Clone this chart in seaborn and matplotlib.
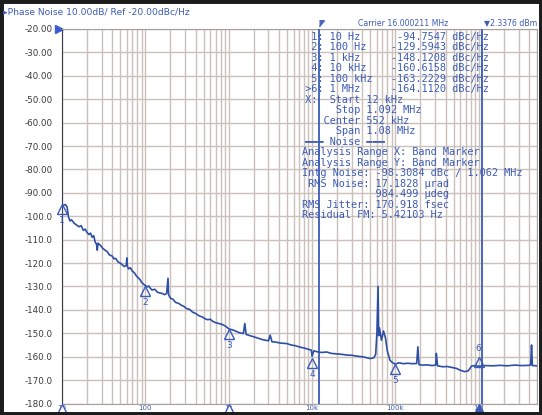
import numpy as np
import pandas as pd
import matplotlib
matplotlib.use('Agg')
import matplotlib.pyplot as plt
import matplotlib.ticker as mticker
import matplotlib.transforms as mtransforms
from matplotlib.patches import Rectangle
import seaborn as sns

# Phase noise trace (offset Hz, dBc/Hz)
freq_hz = [10, 10.5, 11, 11.5, 12, 12.5, 13, 14, 15, 16, 17, 18, 19, 20, 21, 22, 23, 24, 25, 26,
           26.5, 27, 29, 31, 33, 35, 37, 40, 42, 44, 47, 50, 53, 56, 59, 60, 61, 63, 66, 70,
           74, 78, 82, 86, 90, 95, 100, 105, 110, 115, 120, 130, 140, 150, 160, 170, 180, 187, 190, 200,
           215, 230, 250, 270, 290, 310, 340, 370, 400, 440, 480, 520, 560, 600, 650, 700, 760, 830, 900, 960,
           1000, 1100, 1200, 1350, 1500, 1560, 1620, 1800, 2000, 2300, 2600, 3000, 3150, 3300, 3700, 4200, 5000, 5600, 6300, 7000,
           8000, 9000, 9800, 10000, 10500, 11500, 13000, 15000, 17000, 20000, 23000, 26000, 30000, 35000, 40000, 45000, 50000, 55000, 58000, 60000,
           62000, 63000, 64500, 68000, 72000, 76000, 80000, 86000, 92000, 100000, 110000, 125000, 140000, 160000, 180000, 186000, 192000, 210000, 240000, 280000,
           305000, 310000, 320000, 370000, 420000, 480000, 540000, 600000, 680000, 750000, 820000, 900000, 1000000, 1200000, 1500000, 1800000, 2200000, 2700000, 3300000, 4000000,
           4200000, 4300000, 4400000, 5000000]
noise_dbc = [-96.5, -95.2, -95.0, -96.0, -100.5, -102.0, -101.5, -103.0, -103.8, -104.5, -104.0, -106.0, -105.5, -107.0, -107.8, -107.2, -109.0, -108.3, -111.0, -112.0,
             -114.5, -111.5, -112.5, -113.8, -114.5, -115.2, -116.5, -117.0, -118.2, -118.0, -119.5, -120.0, -120.8, -121.5, -121.0, -117.8, -121.5, -122.5, -122.0, -123.5,
             -124.2, -125.5, -126.3, -127.0, -128.2, -129.0, -129.6, -130.2, -129.8, -130.8, -131.5, -131.2, -132.5, -132.8, -133.0, -133.5, -133.0, -126.5, -133.5, -135.0,
             -135.5, -136.8, -137.2, -138.0, -138.5, -139.4, -139.8, -141.0, -141.5, -142.5, -143.0, -143.8, -144.2, -144.0, -145.0, -145.5, -145.8, -146.2, -146.8, -147.5,
             -148.1, -148.5, -149.0, -149.8, -150.1, -145.8, -150.5, -151.0, -151.5, -152.2, -152.8, -153.2, -150.8, -153.6, -153.8, -154.2, -154.4, -155.0, -155.3, -155.8,
             -156.3, -156.8, -157.2, -159.8, -157.5, -157.9, -158.2, -158.0, -158.6, -158.8, -159.0, -159.3, -159.4, -159.8, -160.0, -160.4, -160.8, -160.5, -159.0, -150.0,
             -130.0, -151.0, -147.8, -153.0, -149.0, -152.0, -157.5, -161.5, -162.5, -163.2, -162.6, -163.0, -162.8, -163.0, -162.9, -155.8, -163.4, -163.6, -163.5, -163.8,
             -163.5, -158.6, -163.9, -164.3, -164.2, -164.6, -165.0, -165.8, -166.4, -166.0, -164.0, -163.8, -164.1, -163.8, -163.9, -163.7, -163.9, -163.6, -163.8, -163.7,
             -163.5, -155.0, -163.8, -163.9]

marker_freq = [10, 100, 1e3, 1e4, 1e5, 1e6]
marker_val = [-94.7547, -129.5943, -148.1208, -160.6158, -163.2229, -164.1120]
marker_freq_txt = ['10 Hz', '100 Hz', '1 kHz', '10 kHz', '100 kHz', '1 MHz']

band_start = 12e3
band_stop = 1.092e6

x_ticks = [10, 100, 1e3, 1e4, 1e5, 1e6]
x_tick_labels = ['10', '100', '1k', '10k', '100k', '1M']
y_ticks = list(range(-20, -181, -10))
y_tick_labels = ['-20.00', '-30.00', '-40.00', '-50.00', '-60.00', '-70.00', '-80.00', '-90.00',
                 '-100.0', '-110.0', '-120.0', '-130.0', '-140.0', '-150.0', '-160.0', '-170.0', '-180.0']

noise_lines = ['Analysis Range X: Band Marker',
               'Analysis Range Y: Band Marker',
               'Intg Noise: -98.3084 dBc / 1.062 MHz',
               ' RMS Noise: 17.1828 \u00b5rad',
               '            984.499 \u00b5deg',
               'RMS Jitter: 170.918 fsec',
               'Residual FM: 5.42103 Hz']

TRACE = '#2f4fa6'
BLUE = '#3d5cb4'
GRID = '#cbc1ba'

sns.set_style('white')
W, H = 542, 415
fig = plt.figure(figsize=(W / 100, H / 100), dpi=100)
fig.patch.set_facecolor('white')


def fx(px):
    return px / W


def fy(py):
    return 1 - py / H


ax = fig.add_axes([fx(62), fy(403.5), (537 - 62) / W, (403.5 - 29) / H])
ax.set_xscale('log')

df = pd.DataFrame({'Offset (Hz)': freq_hz, 'Phase noise (dBc/Hz)': noise_dbc})
sns.lineplot(data=df, x='Offset (Hz)', y='Phase noise (dBc/Hz)', ax=ax,
             color=TRACE, linewidth=1.2, zorder=4)

ax.set_xlim(10, 5e6)
ax.set_ylim(-180, -20)
ax.set_xlabel('')
ax.set_ylabel('')

# grid like the analyzer graticule
ax.xaxis.set_minor_locator(mticker.LogLocator(base=10, subs=np.arange(2, 10)))
ax.xaxis.set_minor_formatter(mticker.NullFormatter())
ax.set_xticks(x_ticks)
ax.set_xticklabels(x_tick_labels, fontsize=5, color=BLUE)
ax.set_yticks(y_ticks)
ax.set_yticklabels(y_tick_labels, fontsize=6.3, color='#3a3a3a')
ax.tick_params(which='both', length=0)
ax.tick_params(axis='x', pad=1)
ax.tick_params(axis='y', pad=6.5)
ax.grid(True, which='both', axis='x', color=GRID, lw=1.0)
ax.grid(True, which='major', axis='y', color=GRID, lw=1.0)
ax.set_axisbelow(True)
for side, sp in ax.spines.items():
    sp.set_color('#a8a0a0')
    sp.set_linewidth(0.8)
ax.spines['left'].set_color('#3a3a4a')

# band markers
for f in (band_start, band_stop):
    ax.axvline(f, color='#4866bd', lw=1.4, zorder=3)
xtr = ax.get_xaxis_transform()
ax.plot(band_start, 1.013, transform=xtr, marker=[(0, 1), (1.3, 1), (0, -0.6)],
        ms=7, color='#4866bd', clip_on=False, zorder=6)

# reference level pointer
ax.plot(-0.006, 1.0, transform=ax.transAxes, marker='>', ms=6, color='#3d5cd0', clip_on=False)

# stimulus triangles on the frequency axis
for f, filled in zip([10, 1e3, 1e6], [False, False, True]):
    ax.plot(f, -0.014, transform=xtr, marker='^', ms=6.5, mew=1,
            mfc=BLUE if filled else 'white', mec=BLUE, clip_on=False, zorder=7)

# trace markers
for i, (f, v) in enumerate(zip(marker_freq, marker_val)):
    up = i == len(marker_freq) - 1
    tr = mtransforms.offset_copy(ax.transData, fig=fig, x=0, y=(3 if up else -3.6), units='points')
    ax.plot(f, v, transform=tr, marker='^', ms=7, mfc='none', mec=BLUE, mew=1,
            clip_on=False, zorder=6)
    ax.annotate(str(i + 1), (f, v), xytext=(0, 13 if up else -12), textcoords='offset points',
                ha='center', va='center', fontsize=6.5, color=BLUE, annotation_clip=False)

# header texts
fig.text(fx(3), fy(12), '\u25b8Phase Noise 10.00dB/ Ref -20.00dBc/Hz', fontsize=6.6,
         color=BLUE, ha='left', va='center')
fig.text(fx(448), fy(23), 'Carrier 16.000211 MHz', fontsize=5.6, color=BLUE, ha='right', va='center')
fig.text(fx(537), fy(23), '\u25bc2.3376 dBm', fontsize=5.6, color=BLUE, ha='right', va='center')

# marker table
mono = dict(family='DejaVu Sans Mono', fontsize=7.4, color=BLUE, va='center', ha='left')
row0, dy = 37, 10.47
rows = []
for i, (ft, v) in enumerate(zip(marker_freq_txt, marker_val)):
    act = '>' if i == len(marker_val) - 1 else ' '
    rows.append(' ' + act + str(i + 1) + ': ' + ft.ljust(10) + ('%.4f' % v).rjust(9) + ' dBc/Hz')
rows += [' X:  Start 12 kHz',
         '      Stop 1.092 MHz',
         '    Center 552 kHz',
         '      Span 1.08 MHz',
         ' \u2501\u2501\u2501 Noise \u2501\u2501\u2501']
for k, s in enumerate(rows):
    fig.text(fx(299), fy(row0 + k * dy), s, **mono)
for k, s in enumerate(noise_lines):
    fig.text(fx(302), fy(row0 + (len(rows) + k) * dy), s, **mono)

# screen border
fig.patches.append(Rectangle((0, 0), 1, 1, transform=fig.transFigure, fill=False,
                             edgecolor='#1c1c1c', lw=5))

fig.savefig('out.png', dpi=100)
plt.close(fig)
